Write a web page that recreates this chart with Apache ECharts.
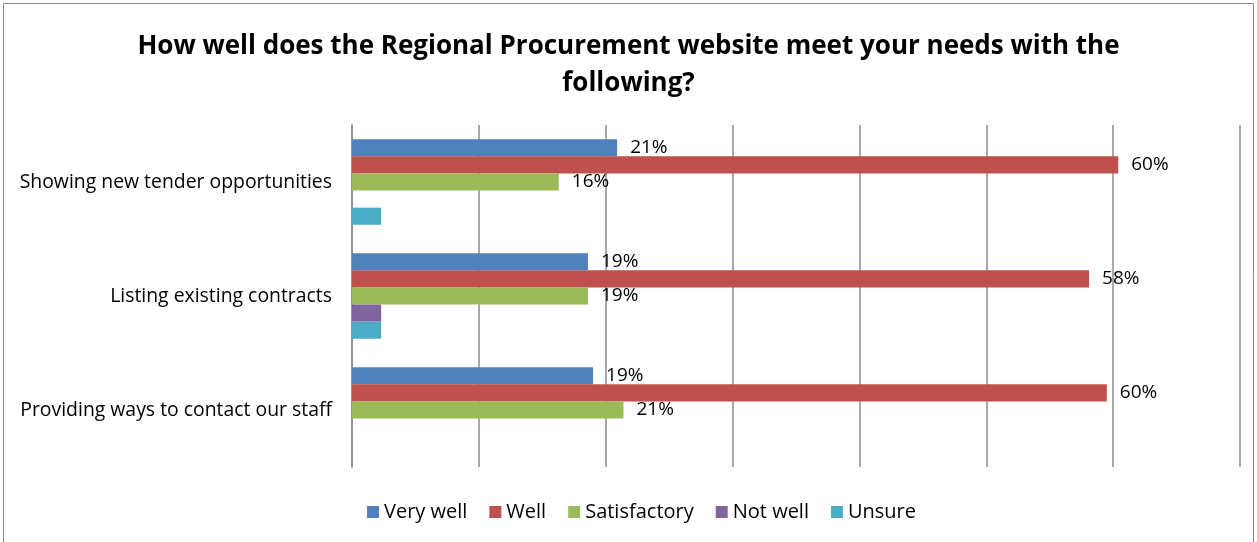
<!DOCTYPE html>
<html>
<head>
<meta charset="utf-8">
<script src="https://cdn.jsdelivr.net/npm/echarts@6/dist/echarts.min.js"></script>
<style>
  html, body { margin: 0; padding: 0; background: #fff; }
  #chart { width: 1257px; height: 542px; }
</style>
</head>
<body>
<div id="chart"></div>
<script>
const categories = [
  'Showing new tender opportunities',
  'Listing existing contracts',
  'Providing ways to contact our staff'
];
const seriesNames = ['Very well', 'Well', 'Satisfactory', 'Not well', 'Unsure'];
const colors = ['#4f81bd', '#c0504d', '#9bbb59', '#8064a2', '#4bacc6'];

// percentages
const veryWell = [20.9, 18.6, 19.0];
const well = [60.4, 58.1, 59.5];
const satisfactory = [16.3, 18.6, 21.4];
const notWell = [null, 2.3, null];
const unsure = [2.3, 2.3, null];

const values = [veryWell, well, satisfactory, notWell, unsure];
const labelled = [true, true, true, false, false];

const font = 'Open Sans';

const chart = echarts.init(document.getElementById('chart'));

chart.setOption({
  animation: false,
  textStyle: { fontFamily: font },
  title: {
    text: 'How well does the Regional Procurement website meet your needs with the\nfollowing?',
    left: 'center',
    top: 23,
    textStyle: { fontFamily: font, fontSize: 26, fontWeight: 'bold', color: '#000', lineHeight: 37 }
  },
  graphic: [{
    type: 'rect',
    shape: { x: 3.5, y: 3.5, width: 1250, height: 545 },
    style: { fill: 'none', stroke: '#868686', lineWidth: 1 },
    silent: true
  }],
  legend: {
    bottom: 15,
    left: 362,
    itemWidth: 12,
    itemHeight: 12,
    itemGap: 22,
    icon: 'rect',
    textStyle: { fontFamily: font, fontSize: 20, color: '#000' },
    data: seriesNames
  },
  grid: { left: 352, right: 17, top: 125, bottom: 75 },
  xAxis: {
    type: 'value',
    min: 0,
    max: 70,
    interval: 10,
    axisLabel: { show: false },
    axisLine: { show: false },
    axisTick: { show: false },
    splitLine: { lineStyle: { color: '#8c8c8c', width: 1.5 } }
  },
  yAxis: {
    type: 'category',
    inverse: true,
    data: categories,
    axisLine: { lineStyle: { color: '#8c8c8c', width: 1.5 } },
    axisTick: { length: 7, lineStyle: { color: '#8c8c8c', width: 1.5 } },
    axisLabel: { fontFamily: font, fontSize: 19.4, color: '#000', margin: 20 }
  },
  series: seriesNames.map((name, i) => ({
    name: name,
    type: 'bar',
    data: values[i],
    barGap: '0%',
    barCategoryGap: '25%',
    itemStyle: { color: colors[i] },
    label: {
      show: labelled[i],
      position: 'right',
      distance: 13,
      fontFamily: font,
      fontSize: 19,
      color: '#000',
      formatter: p => Math.round(p.value) + '%'
    }
  }))
});
</script>
</body>
</html>
